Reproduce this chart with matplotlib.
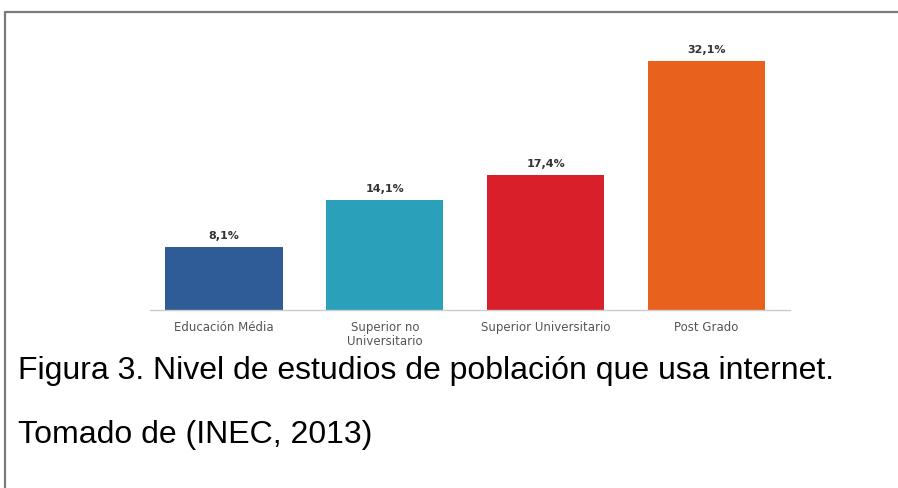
import matplotlib.pyplot as plt
from matplotlib.lines import Line2D

categorias = ["Educación Média", "Superior no\nUniversitario", "Superior Universitario", "Post Grado"]
valores = [8.1, 14.1, 17.4, 32.1]
etiquetas = ["8,1%", "14,1%", "17,4%", "32,1%"]
colores = ["#2F5C97", "#2AA0BA", "#D81F2A", "#E8621E"]

fig = plt.figure(figsize=(8.98, 4.89), dpi=100)
fig.patch.set_facecolor("white")

# marco (solo borde superior e izquierdo visibles)
fig.add_artist(Line2D([5/898, 5/898, 1], [0, 1 - 13/489, 1 - 13/489],
                      transform=fig.transFigure, color="#7a7a7a", lw=1.6))

ax = fig.add_axes([150/898, (489-311)/489, 640/898, 272/489])
x = range(len(valores))
ax.bar(x, valores, width=0.73, color=colores)
for i, v in enumerate(valores):
    ax.text(i, v + 0.9, etiquetas[i], ha="center", va="bottom",
            fontsize=8, fontweight="bold", color="#333333")

ax.set_xlim(-0.46, 3.52)
ax.set_ylim(0, 35)
ax.set_yticks([])
ax.set_xticks(list(x))
ax.set_xticklabels(categorias, fontsize=8.5, color="#555555", linespacing=1.1)
ax.tick_params(axis="x", length=0, pad=7)
for s in ["top", "right", "left"]:
    ax.spines[s].set_visible(False)
ax.spines["bottom"].set_color("#cccccc")
ax.spines["bottom"].set_linewidth(1)

fig.text(18/898, 1 - 371/489, "Figura 3. Nivel de estudios de población que usa internet.",
         fontsize=23, family="Liberation Sans", va="center", ha="left", color="black")
fig.text(18/898, 1 - 435/489, "Tomado de (INEC, 2013)",
         fontsize=23, family="Liberation Sans", va="center", ha="left", color="black")

fig.savefig("out.png", dpi=100, facecolor="white")
